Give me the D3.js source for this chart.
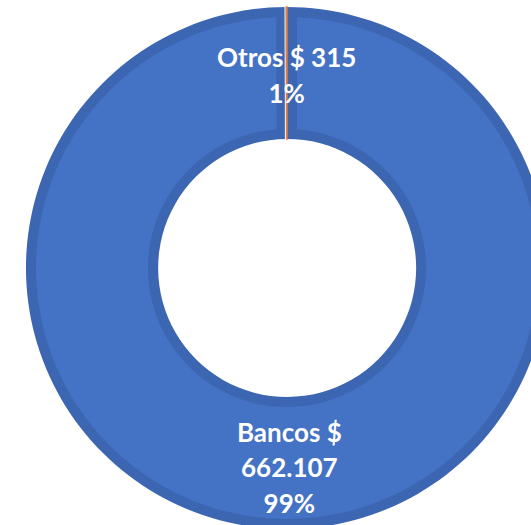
<!DOCTYPE html>
<html>
<head>
<meta charset="utf-8">
<script src="https://cdn.jsdelivr.net/npm/d3@7"></script>
<style>
  html, body { margin: 0; padding: 0; background: #ffffff; overflow: hidden; }
  svg { display: block; }
</style>
</head>
<body>
<div id="chart"></div>
<script>
// Data
const categories = ["Bancos", "Otros"];
const values = [662107, 315];
const valueLabels = ["662.107", "315"];
const percentLabels = ["99%", "1%"];
const colors = ["#4472C4", "#ED7D31"];
const bandColors = ["#3C66B1", "#D86F2A"];

const W = 531, H = 525;
const cx = 287, cy = 268;
const R = 261, r = 129;
const band = 10;

const svg = d3.select("#chart").append("svg")
  .attr("width", W).attr("height", H);

const g = svg.append("g").attr("transform", `translate(${cx},${cy})`);

const data = categories.map((c, i) => ({ name: c, value: values[i], idx: i }));
const pie = d3.pie().value(d => d.value).sort(null);
const arcs = pie(data);

const arcOuter = d3.arc().innerRadius(r).outerRadius(R);
const padR = (R + r) / 2;
const arcInner = d3.arc().innerRadius(r + band).outerRadius(R - band)
  .padRadius(padR).padAngle(2 * band / padR);

// base (darker band)
g.selectAll("path.base").data(arcs).enter().append("path")
  .attr("class", "base")
  .attr("d", arcOuter)
  .attr("fill", d => d.data.idx === 0 ? bandColors[0] : colors[1])
  .attr("stroke", d => d.data.idx === 0 ? "none" : colors[1])
  .attr("stroke-width", d => d.data.idx === 0 ? 0 : 1.4);

// inner lighter fill
g.selectAll("path.fill").data(arcs.filter(d => d.data.idx === 0)).enter().append("path")
  .attr("class", "fill")
  .attr("d", arcInner)
  .attr("fill", d => colors[d.data.idx]);

// white separator at the start of the small slice
const small = arcs[1];
g.append("line")
  .attr("x1", Math.sin(small.startAngle) * r)
  .attr("y1", -Math.cos(small.startAngle) * r)
  .attr("x2", Math.sin(small.startAngle) * R)
  .attr("y2", -Math.cos(small.startAngle) * R)
  .attr("transform", "translate(-1.2,0)")
  .attr("stroke", "#ffffff")
  .attr("stroke-width", 1);

// labels
const labelArc = d3.arc().innerRadius(r).outerRadius(R);
const fontSize = 26, lineH = 35.5;
const labelLines = [
  ["Bancos $", valueLabels[0], percentLabels[0]],
  ["Otros $ " + valueLabels[1], percentLabels[1]]
];
arcs.forEach((a, i) => {
  const [x, y] = labelArc.centroid(a);
  const lines = labelLines[i];
  const t = g.append("text")
    .attr("text-anchor", "middle")
    .attr("font-family", "Lato, 'Open Sans', sans-serif")
    .attr("font-weight", "bold")
    .attr("font-size", fontSize)
    .attr("fill", "#ffffff");
  const offset = i === 0 ? 5 : 3;
  const x0 = i === 0 ? x + 2 : x;
  lines.forEach((ln, k) => {
    t.append("tspan")
      .attr("x", x0)
      .attr("y", y + offset + (k - (lines.length - 1) / 2) * lineH + fontSize * 0.35)
      .text(ln);
  });
});
</script>
</body>
</html>
